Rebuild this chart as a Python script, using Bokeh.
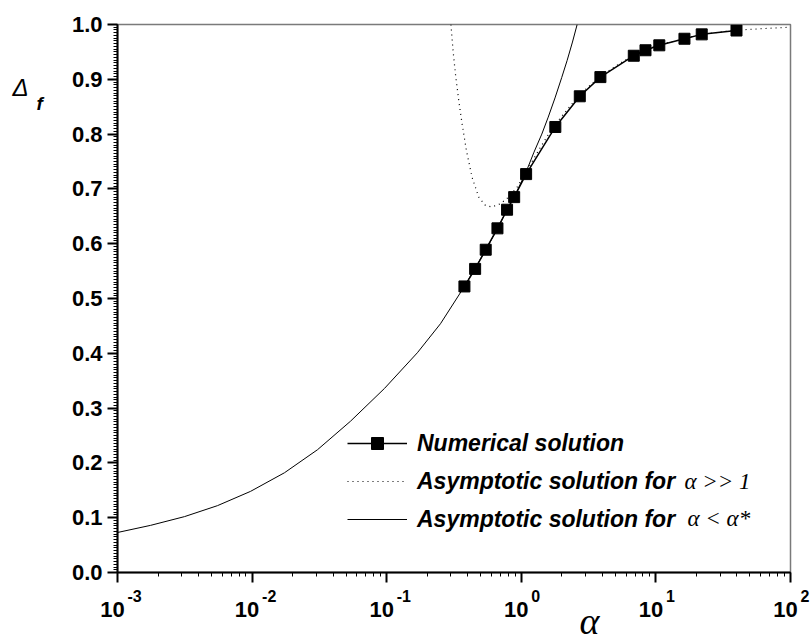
import math
from bokeh.plotting import figure
from bokeh.layouts import row, column
from bokeh.models import (Range1d, LogAxis, LinearAxis, LogTicker, SingleIntervalTicker,
                          PrintfTickFormatter, CustomJSTickFormatter, Label, Legend,
                          LegendItem, LogScale)
from bokeh.core.properties import value
from bokeh.embed import file_html
from bokeh.resources import INLINE

# ---------------- data ----------------
alpha_num = [0.378, 0.454, 0.544, 0.665, 0.784, 0.885, 1.086, 1.79, 2.72, 3.87,
             6.85, 8.37, 10.6, 16.3, 21.9, 39.7]
delta_num = [0.522, 0.554, 0.589, 0.628, 0.662, 0.685, 0.727, 0.813, 0.869, 0.904,
             0.943, 0.953, 0.962, 0.974, 0.982, 0.989]

alpha_large = [0.300, 0.311, 0.324, 0.343, 0.363, 0.391, 0.431, 0.483, 0.541, 0.607,
               0.700, 0.805, 0.931, 1.104, 1.387, 1.742, 2.72, 3.87, 6.85, 10.6,
               21.9, 40.0, 100.0]
delta_large = [1.000, 0.953, 0.910, 0.861, 0.819, 0.770, 0.721, 0.685, 0.670, 0.667,
               0.673, 0.685, 0.703, 0.734, 0.776, 0.815, 0.872, 0.906, 0.945, 0.963,
               0.982, 0.990, 0.995]

alpha_small = [0.001, 0.00176, 0.00315, 0.00553, 0.00973, 0.0174, 0.0306, 0.0538,
               0.0964, 0.169, 0.251, 0.378, 0.545, 0.665, 0.783, 0.93, 1.086, 1.242,
               1.42, 1.585, 1.78, 1.995, 2.188, 2.40, 2.60]
delta_small = [0.073, 0.086, 0.102, 0.122, 0.148, 0.182, 0.224, 0.276, 0.336, 0.401,
               0.454, 0.522, 0.589, 0.627, 0.662, 0.696, 0.731, 0.767, 0.800, 0.831,
               0.866, 0.903, 0.934, 0.968, 1.000]

x_ticks = [1e-3, 1e-2, 1e-1, 1e0, 1e1, 1e2]
x_tick_base = ["10"] * 6
x_tick_exp = ["-3", "-2", "-1", "0", "1", "2"]

legend_labels = ["Numerical solution", "Asymptotic solution for", "Asymptotic solution for"]
legend_math = ["", "\u03b1 >> 1", "\u03b1 < \u03b1*"]

# ---------------- layout (page pixels) ----------------
W, H = 811, 640
LEFT_W = 50                  # strip holding the y title
FL, FR, FT, FB = 117, 790, 24, 572
MAIN_H = 587                 # main figure height (frame + ticks)
X0, X1, Y0, Y1 = 1e-3, 1e2, 0.0, 1.0
DEC = (FR - FL) / (math.log10(X1) - math.log10(X0))


def px(xp):
    return 10 ** (math.log10(X0) + (xp - FL) / DEC)


def py(yp):
    return Y0 + (FB - yp) / (FB - FT) * (Y1 - Y0)


FONT = "Liberation Sans"
SERIF = "Liberation Serif"

# ---------------- main plot ----------------
p = figure(width=W - LEFT_W, height=MAIN_H, x_axis_type=None, y_axis_type=None,
           x_range=Range1d(X0, X1), y_range=Range1d(Y0, Y1),
           output_backend="svg", toolbar_location=None,
           min_border_left=FL - LEFT_W, min_border_right=W - FR,
           min_border_top=FT, min_border_bottom=MAIN_H - FB)
p.x_scale = LogScale()
p.background_fill_color = "white"
p.border_fill_color = "white"
p.outline_line_color = "#7a7a7a"
p.outline_line_width = 1.5

xaxis = LogAxis(ticker=LogTicker(num_minor_ticks=10, desired_num_ticks=6),
                formatter=CustomJSTickFormatter(code="return ''"))
yaxis = LinearAxis(ticker=SingleIntervalTicker(interval=0.1, num_minor_ticks=20),
                   formatter=PrintfTickFormatter(format="%.1f"))
for ax in (xaxis, yaxis):
    ax.axis_line_width = 2
    ax.axis_line_color = "black"
    ax.major_tick_line_width = 2
    ax.major_tick_line_color = "black"
    ax.major_tick_out = 10
    ax.major_tick_in = 0
    ax.minor_tick_line_width = 1
    ax.minor_tick_line_color = "black"
    ax.minor_tick_out = 4
    ax.minor_tick_in = 0
    ax.major_label_text_font = FONT
    ax.major_label_text_font_style = "bold"
    ax.major_label_text_color = "black"
xaxis.major_label_text_font_size = "1px"
xaxis.major_label_standoff = 0
yaxis.major_label_text_font_size = "22px"
yaxis.major_label_standoff = 5
p.add_layout(xaxis, "below")
p.add_layout(yaxis, "left")

r_small = p.line(alpha_small, delta_small, line_color="black", line_width=1)
r_large = p.line(alpha_large, delta_large, line_color="black", line_width=1.2,
                 line_dash="1 4")
r_num_l = p.line(alpha_num, delta_num, line_color="black", line_width=1.5)
r_num_s = p.scatter(alpha_num, delta_num, marker="square", size=11,
                    fill_color="black", line_color="black")

legend = Legend(items=[
    LegendItem(label=legend_labels[0], renderers=[r_num_l, r_num_s]),
    LegendItem(label=legend_labels[1], renderers=[r_large]),
    LegendItem(label=legend_labels[2], renderers=[r_small]),
], location=(230, 38), orientation="vertical")
legend.border_line_color = None
legend.background_fill_alpha = 0
legend.padding = 0
legend.margin = 0
legend.spacing = 8
legend.glyph_width = 60
legend.glyph_height = 30
legend.label_height = 30
legend.label_standoff = 10
legend.label_text_font = FONT
legend.label_text_font_style = "bold italic"
legend.label_text_font_size = "23px"
legend.label_text_color = "black"
p.add_layout(legend, "center")

row_base = [0, 481, 518]
math_x = [0, 684, 687]
for i in (1, 2):
    p.add_layout(Label(x=px(math_x[i]), y=py(row_base[i]), text=legend_math[i],
                       text_font=SERIF, text_font_style="italic",
                       text_font_size="23px", text_color="black",
                       text_align="left", text_baseline="alphabetic"))

# ---------------- left strip: y title (frame matches the main frame vertically) ----
lf = figure(width=LEFT_W, height=MAIN_H, x_range=Range1d(0, LEFT_W),
            y_range=Range1d(FB, FT), output_backend="svg", toolbar_location=None,
            min_border_left=0, min_border_right=0, min_border_top=FT,
            min_border_bottom=MAIN_H - FB, x_axis_type=None, y_axis_type=None)
lf.outline_line_color = None
lf.background_fill_color = "white"
lf.border_fill_color = "white"
lf.text(x=[12], y=[87], text=["\u0394"], text_font=value(FONT), text_font_style="italic",
        text_font_size="24px", text_color="black", text_align="left",
        text_baseline="alphabetic")
lf.text(x=[36], y=[103], text=["f"], text_font=value(FONT), text_font_style="bold italic",
        text_font_size="19px", text_color="black", text_align="left",
        text_baseline="alphabetic")

# ---------------- bottom strip: x tick labels and x title ----------------
BOT_H = H - MAIN_H
bf = figure(width=W, height=BOT_H, x_range=Range1d(px(0), px(W)),
            y_range=Range1d(H, MAIN_H), output_backend="svg", toolbar_location=None,
            min_border_left=0, min_border_right=0, min_border_top=0,
            min_border_bottom=0, x_axis_type=None, y_axis_type=None)
bf.x_scale = LogScale()
bf.outline_line_color = None
bf.background_fill_color = "white"
bf.border_fill_color = "white"
bf.text(x=x_ticks, y=[609] * len(x_ticks), text=x_tick_base, x_offset=-5,
        text_font=value(FONT), text_font_style="bold", text_font_size="22px",
        text_color="black", text_align="center", text_baseline="alphabetic")
bf.text(x=x_ticks, y=[595] * len(x_ticks), text=x_tick_exp, x_offset=10,
        text_font=value(FONT), text_font_style="bold", text_font_size="16px",
        text_color="black", text_align="left", text_baseline="alphabetic")
bf.text(x=[px(579)], y=[620], text=["\u03b1"], text_font=value(SERIF),
        text_font_style="italic", text_font_size="38px", text_color="black",
        text_align="left", text_baseline="alphabetic")

layout = column(row(lf, p, spacing=0), bf, spacing=0)
open("out.html", "w").write(file_html(layout, INLINE))
